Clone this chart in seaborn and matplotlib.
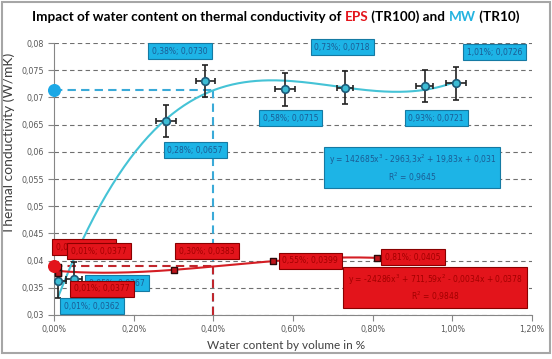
import numpy as np
import pandas as pd
import matplotlib
matplotlib.use("Agg")
import matplotlib.pyplot as plt
import seaborn as sns
from matplotlib.ticker import FuncFormatter, MultipleLocator
from matplotlib.patches import Rectangle

# MW (TR10): water content in %, thermal conductivity in W/mK
mw_water = [0.01, 0.05, 0.28, 0.38, 0.58, 0.73, 0.93, 1.01]
mw_lambda = [0.0362, 0.0367, 0.0657, 0.0730, 0.0715, 0.0718, 0.0721, 0.0726]
mw_xerr = [0.02, 0.02, 0.025, 0.025, 0.025, 0.02, 0.022, 0.025]
mw_yerr = [0.003, 0.003, 0.003, 0.003, 0.003, 0.003, 0.003, 0.003]
mw_labels = ["0,01%; 0,0362", "0,05%; 0,0367", "0,28%; 0,0657", "0,38%; 0,0730",
             "0,58%; 0,0715", "0,73%; 0,0718", "0,93%; 0,0721", "1,01%; 0,0726"]
mw_equation = "y = 142685x$^3$ - 2963,3x$^2$ + 19,83x + 0,031\nR$^2$ = 0,9645"

# EPS (TR100)
eps_water = [0.01, 0.01, 0.01, 0.30, 0.55, 0.81]
eps_lambda = [0.0389, 0.0377, 0.0377, 0.0383, 0.0399, 0.0405]
eps_labels = ["0,01%; 0,0389", "0,01%; 0,0377", "0,01%; 0,0377",
              "0,30%; 0,0383", "0,55%; 0,0399", "0,81%; 0,0405"]
eps_equation = "y = -24286x$^3$ + 711,59x$^2$ - 0,0034x + 0,0378\nR$^2$ = 0,9848"

# reading point (water content in %)
ref_water = 0.40

# label box positions (layout only)
mw_label_pos = [(0.095, 0.03165), (0.158, 0.03588), (0.354, 0.06033), (0.316, 0.07853),
                (0.593, 0.06621), (0.723, 0.07926), (0.959, 0.06621), (1.105, 0.07835)]
mw_eq_pos = (0.899, 0.05702)
eps_label_pos = [(0.075, 0.0425), (0.113, 0.04176), (0.120, 0.03478),
                 (0.384, 0.04176), (0.643, 0.03993), (0.901, 0.04066)]
eps_eq_pos = (0.957, 0.03496)

CYAN_LINE = "#45c3d6"
CYAN_BOX = "#1db4e6"
CYAN_TXT = "#1b5c94"
RED = "#e3141b"
RED_TXT = "#a30000"

sns.set_style("white")
plt.rcParams["font.family"] = ["DejaVu Sans"]

fig = plt.figure(figsize=(5.52, 3.59), dpi=100)
ax = fig.add_axes([0.098, 0.1226, 0.866, 0.7574])

# cubic trendlines
mw_fit = np.polyfit(mw_water, mw_lambda, 3)
eps_fit = np.polyfit(eps_water, eps_lambda, 3)
mw_curve = pd.DataFrame({"x": np.linspace(min(mw_water), max(mw_water), 200)})
mw_curve["y"] = np.polyval(mw_fit, mw_curve["x"])
eps_curve = pd.DataFrame({"x": np.linspace(min(eps_water), max(eps_water), 200)})
eps_curve["y"] = np.polyval(eps_fit, eps_curve["x"])
mw_ref = np.polyval(mw_fit, ref_water)
eps_ref = np.polyval(eps_fit, ref_water)

# reading lines
ax.plot([0, ref_water], [mw_ref, mw_ref], ls=(0, (4, 2.5)), color="#3aaad8", lw=1.5, zorder=2)
ax.plot([ref_water, ref_water], [0.03, mw_ref], ls=(0, (4, 2.5)), color="#3aaad8", lw=1.5, zorder=2)
ax.plot([0, ref_water], [eps_ref, eps_ref], ls=(0, (4, 2.5)), color="#c0262c", lw=1.5, zorder=2)
ax.plot([ref_water, ref_water], [0.03, eps_ref], ls=(0, (4, 2.5)), color="#c0262c", lw=1.5, zorder=2)

sns.lineplot(data=mw_curve, x="x", y="y", color=CYAN_LINE, lw=1.5, ax=ax, zorder=3)
sns.lineplot(data=eps_curve, x="x", y="y", color="#d41e24", lw=1.5, ax=ax, zorder=3)

ax.errorbar(mw_water, mw_lambda, xerr=mw_xerr, yerr=mw_yerr, fmt="none",
            ecolor="#222222", elinewidth=1.2, capsize=2.5, capthick=1.2, zorder=4)
sns.scatterplot(x=mw_water, y=mw_lambda, marker="o", s=30, color="#3dbcd4",
                edgecolor="#1d5a78", linewidth=1.2, ax=ax, zorder=5)
sns.scatterplot(x=eps_water, y=eps_lambda, marker="s", s=22, color="#c0141b",
                edgecolor="#2a0a0a", linewidth=1.0, ax=ax, zorder=5)

# reading dots on the axis
ax.scatter([0], [mw_ref], s=70, color="#1ba8e6", zorder=6, clip_on=False)
ax.scatter([0], [eps_ref], s=70, color=RED, zorder=6, clip_on=False)

lab_kw = dict(fontsize=5.5, ha="center", va="center", zorder=8)
for txt, (lx, ly) in zip(mw_labels, mw_label_pos):
    ax.text(lx, ly, txt, color=CYAN_TXT,
            bbox=dict(boxstyle="square,pad=0.5", fc=CYAN_BOX, ec="#157aa3", lw=0.8), **lab_kw)
ax.text(*mw_eq_pos, mw_equation, color=CYAN_TXT, linespacing=1.3,
        bbox=dict(boxstyle="square,pad=0.6", fc=CYAN_BOX, ec="#157aa3", lw=0.8), **lab_kw)
for txt, (lx, ly) in zip(eps_labels, eps_label_pos):
    ax.text(lx, ly, txt, color=RED_TXT,
            bbox=dict(boxstyle="square,pad=0.5", fc=RED, ec="#8a0000", lw=0.8), **lab_kw)
ax.text(*eps_eq_pos, eps_equation, color=RED_TXT, linespacing=1.3,
        bbox=dict(boxstyle="square,pad=0.6", fc=RED, ec="#8a0000", lw=0.8), **lab_kw)

# axes
ax.set_xlim(0, 1.2)
ax.set_ylim(0.03, 0.08)
ax.xaxis.set_major_locator(MultipleLocator(0.2))
ax.yaxis.set_major_locator(MultipleLocator(0.005))
ax.xaxis.set_major_formatter(FuncFormatter(lambda v, p: f"{v:.2f}%".replace(".", ",")))
ax.yaxis.set_major_formatter(FuncFormatter(lambda v, p: f"{v:.3f}".rstrip("0").replace(".", ",")))
ax.tick_params(axis="both", labelsize=5.8, labelcolor="#595959", color="#868686",
               length=4, width=0.8, direction="out", left=True, bottom=True)
ax.yaxis.grid(True, ls=(0, (4, 3)), color="#6f6f6f", lw=0.8)
ax.xaxis.grid(False)
for side in ["top", "right"]:
    ax.spines[side].set_visible(False)
for side in ["left", "bottom"]:
    ax.spines[side].set_color("#868686")
    ax.spines[side].set_linewidth(0.8)

ax.set_xlabel("Water content by volume in %", fontsize=8.5, color="#404040", family="Lato")
ax.set_ylabel("Thermal conductivity (W/mK)", fontsize=10, color="#404040", family="Lato")
ax.xaxis.set_label_coords(0.486, -0.092)
ax.yaxis.set_label_coords(-0.082, 0.63)

# multi-coloured title, pieces chained left to right
tkw = dict(fontsize=9.7, fontweight="bold", family="Lato", va="bottom")
t1 = fig.text(0.058, 0.936, "Impact of water content on thermal conductivity of ", color="black", **tkw)
t2 = ax.annotate("EPS", xy=(1, 0), xycoords=t1, color=RED, annotation_clip=False, **tkw)
t3 = ax.annotate(" (TR100) and ", xy=(1, 0), xycoords=t2, color="black", annotation_clip=False, **tkw)
t4 = ax.annotate("MW", xy=(1, 0), xycoords=t3, color="#22b3e0", annotation_clip=False, **tkw)
ax.annotate(" (TR10)", xy=(1, 0), xycoords=t4, color="black", annotation_clip=False, **tkw)

fig.patches.append(Rectangle((2 / 552, 6 / 359), 548 / 552, 351 / 359, transform=fig.transFigure,
                             fill=False, ec="#a6a6a6", lw=1.5))

fig.savefig("out.png", dpi=100)
